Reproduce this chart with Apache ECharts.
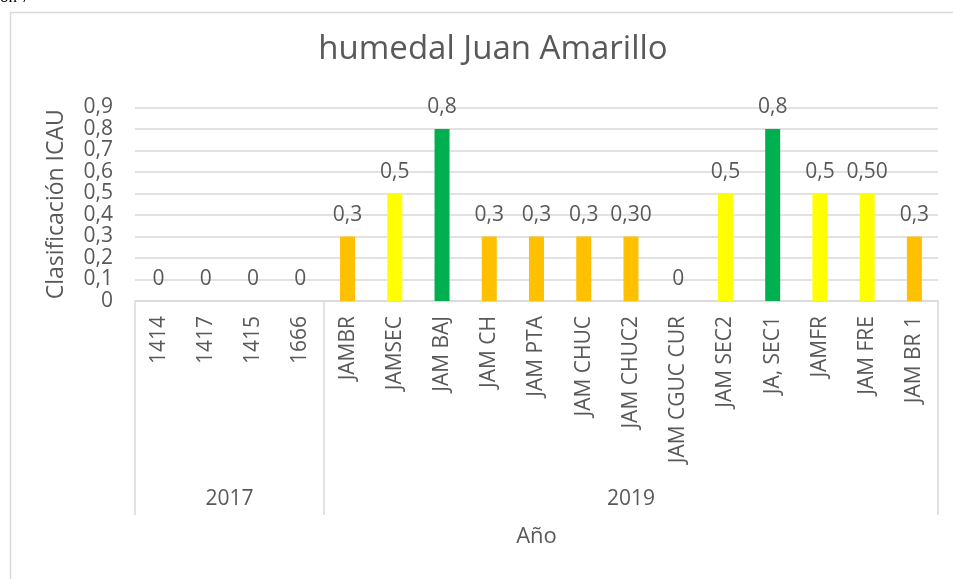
<!DOCTYPE html>
<html>
<head>
<meta charset="utf-8">
<script src="https://cdn.jsdelivr.net/npm/echarts@6/dist/echarts.min.js"></script>
<style>
  html, body { margin: 0; padding: 0; background: #fff; }
  #chart { width: 953px; height: 579px; }
</style>
</head>
<body>
<div id="chart"></div>
<script>
  // estaciones (nivel 1) y años (nivel 2)
  var estaciones = ['1414', '1417', '1415', '1666', 'JAMBR', 'JAMSEC', 'JAM BAJ', 'JAM CH', 'JAM PTA',
    'JAM CHUC', 'JAM CHUC2', 'JAM CGUC CUR', 'JAM SEC2', 'JA, SEC1', 'JAMFR', 'JAM FRE', 'JAM BR 1'];
  var icau = [0, 0, 0, 0, 0.3, 0.5, 0.8, 0.3, 0.3, 0.3, 0.3, 0, 0.5, 0.8, 0.5, 0.5, 0.3];
  var decimales = [0, 0, 0, 0, 1, 1, 1, 1, 1, 1, 2, 0, 1, 1, 1, 2, 1];
  var anios = ['2017', '2019'];
  var estacionesPorAnio = [4, 13];
  var yTicks = [0, 0.1, 0.2, 0.3, 0.4, 0.5, 0.6, 0.7, 0.8, 0.9];

  var gris = '#595959';
  var linea = '#d9d9d9';
  var font = 'Open Sans';

  function colorBarra(v) {
    if (v >= 0.7) return '#00b050';
    if (v >= 0.45) return '#ffff00';
    return '#ffc000';
  }

  // limites y centros de cada grupo de años
  var limites = [0], centros = [];
  estacionesPorAnio.forEach(function(n) {
    var ini = limites[limites.length - 1];
    centros.push(ini + n / 2);
    limites.push(ini + n);
  });

  var chart = echarts.init(document.getElementById('chart'));
  chart.setOption({
    animation: false,
    textStyle: { fontFamily: font },
    title: {
      text: 'humedal Juan Amarillo',
      left: 488, top: 28, textAlign: 'center',
      textStyle: { color: gris, fontSize: 33, fontWeight: 'normal', fontFamily: font }
    },
    graphic: [
      { type: 'rect', left: 8, top: 10, shape: { width: 960, height: 600 },
        style: { fill: 'none', stroke: linea, lineWidth: 1.5 }, silent: true },
      { type: 'text', left: 0, top: -11,
        style: { text: 'ón 7', font: '17px "Liberation Serif"', fill: '#000' } }
    ],
    grid: { left: 135, right: 15, top: 107.5, bottom: 278 },
    xAxis: [{
      type: 'category',
      data: estaciones,
      axisLine: { lineStyle: { color: linea, width: 1.5 } },
      axisTick: { show: false },
      axisLabel: { rotate: 90, color: gris, fontSize: 21, margin: 15, interval: 0, fontFamily: font },
      name: 'Año', nameLocation: 'middle', nameGap: 225,
      nameTextStyle: { color: gris, fontSize: 22, fontFamily: font }
    }, {
      type: 'value',
      min: 0, max: limites[limites.length - 1],
      position: 'bottom',
      axisLine: { show: false },
      splitLine: { show: false },
      axisTick: { show: true, customValues: limites, length: 214, lineStyle: { color: linea, width: 1.5 } },
      axisLabel: {
        customValues: centros, margin: 188, color: gris, fontSize: 21, fontFamily: font,
        formatter: function(v) {
          var i = centros.indexOf(v);
          return i >= 0 ? anios[i] : '';
        }
      }
    }],
    yAxis: {
      type: 'value',
      min: yTicks[0], max: yTicks[yTicks.length - 1], interval: 0.1,
      axisLine: { show: false },
      axisTick: { show: false },
      splitLine: { lineStyle: { color: linea, width: 1.5 } },
      axisLabel: {
        color: gris, fontSize: 21, margin: 22, fontFamily: font,
        formatter: function(v) { return v === 0 ? '0' : v.toFixed(1).replace('.', ','); }
      },
      name: 'Clasificación ICAU', nameLocation: 'middle', nameGap: 67,
      nameTextStyle: { color: gris, fontSize: 23, fontFamily: font, padding: [0, 0, 0, 0] }
    },
    series: [{
      type: 'bar',
      barWidth: 15,
      data: icau.map(function(v) { return { value: v, itemStyle: { color: colorBarra(v) } }; }),
      label: {
        show: true, position: 'top', distance: 11,
        color: gris, fontSize: 21, fontFamily: font,
        formatter: function(p) {
          var v = p.value;
          return v === 0 ? '0' : v.toFixed(decimales[p.dataIndex]).replace('.', ',');
        }
      }
    }]
  });
</script>
</body>
</html>
